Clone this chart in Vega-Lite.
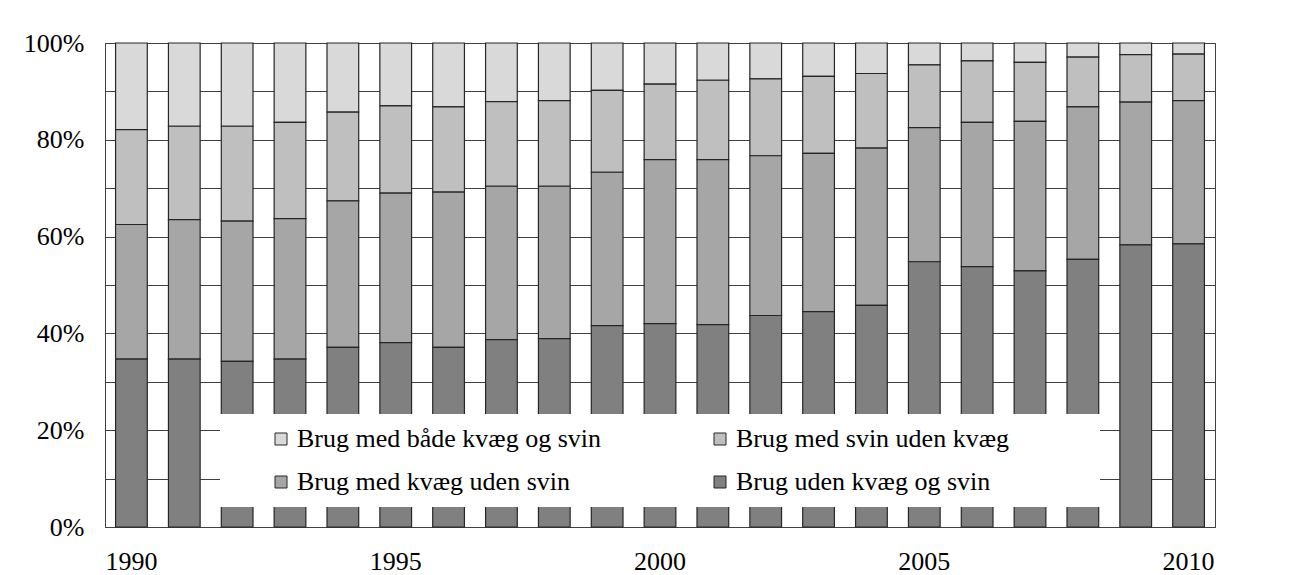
{
  "$schema": "https://vega.github.io/schema/vega-lite/v6.json",
  "width": 1110,
  "height": 484,
  "autosize": {"type": "none"},
  "padding": {"left": 105, "top": 43, "right": 78, "bottom": 48},
  "background": "white",
  "config": {
    "font": "'Liberation Serif', 'Times New Roman', serif",
    "view": {"stroke": "#404040", "strokeWidth": 1}
  },
  "data": {
    "values": [
      {"aar": 1990, "Brug uden kvæg og svin": 34.7, "Brug med kvæg uden svin": 27.8, "Brug med svin uden kvæg": 19.6, "Brug med både kvæg og svin": 17.9},
      {"aar": 1991, "Brug uden kvæg og svin": 34.7, "Brug med kvæg uden svin": 28.8, "Brug med svin uden kvæg": 19.3, "Brug med både kvæg og svin": 17.2},
      {"aar": 1992, "Brug uden kvæg og svin": 34.2, "Brug med kvæg uden svin": 29.0, "Brug med svin uden kvæg": 19.6, "Brug med både kvæg og svin": 17.2},
      {"aar": 1993, "Brug uden kvæg og svin": 34.7, "Brug med kvæg uden svin": 29.0, "Brug med svin uden kvæg": 19.9, "Brug med både kvæg og svin": 16.4},
      {"aar": 1994, "Brug uden kvæg og svin": 37.1, "Brug med kvæg uden svin": 30.3, "Brug med svin uden kvæg": 18.3, "Brug med både kvæg og svin": 14.3},
      {"aar": 1995, "Brug uden kvæg og svin": 38.1, "Brug med kvæg uden svin": 30.9, "Brug med svin uden kvæg": 18.0, "Brug med både kvæg og svin": 13.0},
      {"aar": 1996, "Brug uden kvæg og svin": 37.1, "Brug med kvæg uden svin": 32.1, "Brug med svin uden kvæg": 17.6, "Brug med både kvæg og svin": 13.2},
      {"aar": 1997, "Brug uden kvæg og svin": 38.7, "Brug med kvæg uden svin": 31.7, "Brug med svin uden kvæg": 17.5, "Brug med både kvæg og svin": 12.1},
      {"aar": 1998, "Brug uden kvæg og svin": 38.9, "Brug med kvæg uden svin": 31.5, "Brug med svin uden kvæg": 17.7, "Brug med både kvæg og svin": 11.9},
      {"aar": 1999, "Brug uden kvæg og svin": 41.6, "Brug med kvæg uden svin": 31.7, "Brug med svin uden kvæg": 16.9, "Brug med både kvæg og svin": 9.8},
      {"aar": 2000, "Brug uden kvæg og svin": 42.0, "Brug med kvæg uden svin": 33.9, "Brug med svin uden kvæg": 15.6, "Brug med både kvæg og svin": 8.5},
      {"aar": 2001, "Brug uden kvæg og svin": 41.8, "Brug med kvæg uden svin": 34.1, "Brug med svin uden kvæg": 16.4, "Brug med både kvæg og svin": 7.7},
      {"aar": 2002, "Brug uden kvæg og svin": 43.7, "Brug med kvæg uden svin": 33.0, "Brug med svin uden kvæg": 15.9, "Brug med både kvæg og svin": 7.4},
      {"aar": 2003, "Brug uden kvæg og svin": 44.5, "Brug med kvæg uden svin": 32.7, "Brug med svin uden kvæg": 15.9, "Brug med både kvæg og svin": 6.9},
      {"aar": 2004, "Brug uden kvæg og svin": 45.8, "Brug med kvæg uden svin": 32.5, "Brug med svin uden kvæg": 15.4, "Brug med både kvæg og svin": 6.3},
      {"aar": 2005, "Brug uden kvæg og svin": 54.8, "Brug med kvæg uden svin": 27.7, "Brug med svin uden kvæg": 13.0, "Brug med både kvæg og svin": 4.5},
      {"aar": 2006, "Brug uden kvæg og svin": 53.8, "Brug med kvæg uden svin": 29.8, "Brug med svin uden kvæg": 12.7, "Brug med både kvæg og svin": 3.7},
      {"aar": 2007, "Brug uden kvæg og svin": 52.9, "Brug med kvæg uden svin": 30.9, "Brug med svin uden kvæg": 12.2, "Brug med både kvæg og svin": 4.0},
      {"aar": 2008, "Brug uden kvæg og svin": 55.3, "Brug med kvæg uden svin": 31.5, "Brug med svin uden kvæg": 10.3, "Brug med både kvæg og svin": 2.9},
      {"aar": 2009, "Brug uden kvæg og svin": 58.3, "Brug med kvæg uden svin": 29.5, "Brug med svin uden kvæg": 9.8, "Brug med både kvæg og svin": 2.4},
      {"aar": 2010, "Brug uden kvæg og svin": 58.5, "Brug med kvæg uden svin": 29.6, "Brug med svin uden kvæg": 9.6, "Brug med både kvæg og svin": 2.3}
    ]
  },
  "transform": [
    {"fold": ["Brug med både kvæg og svin", "Brug med svin uden kvæg", "Brug med kvæg uden svin", "Brug uden kvæg og svin"], "as": ["kategori", "andel"]},
    {"calculate": "indexof(['Brug uden kvæg og svin','Brug med kvæg uden svin','Brug med svin uden kvæg','Brug med både kvæg og svin'], datum.kategori)", "as": "stackorder"}
  ],
  "mark": {"type": "bar", "stroke": "#262626", "strokeWidth": 1.2},
  "encoding": {
    "x": {
      "field": "aar",
      "type": "ordinal",
      "scale": {"paddingInner": 0.4, "paddingOuter": 0.2},
      "axis": {
        "title": null,
        "labelAngle": 0,
        "ticks": false,
        "grid": false,
        "domainColor": "#404040",
        "labelFontSize": 26,
        "labelFont": "'Liberation Serif', 'Times New Roman', serif",
        "labelColor": "black",
        "labelPadding": 21,
        "labelOverlap": false,
        "labelExpr": "datum.value % 5 === 0 ? datum.label : ''"
      }
    },
    "y": {
      "field": "andel",
      "type": "quantitative",
      "stack": "normalize",
      "scale": {"domain": [0, 1]},
      "axis": {
        "title": null,
        "values": [0, 0.1, 0.2, 0.3, 0.4, 0.5, 0.6, 0.7, 0.8, 0.9, 1],
        "format": ".0%",
        "labelExpr": "round(datum.value * 10) % 2 === 0 ? datum.label : ''",
        "ticks": false,
        "domain": false,
        "grid": true,
        "gridColor": "#404040",
        "gridWidth": 1.2,
        "labelFontSize": 26,
        "labelFont": "'Liberation Serif', 'Times New Roman', serif",
        "labelColor": "black",
        "labelPadding": 21,
        "labelOverlap": false
      }
    },
    "color": {
      "field": "kategori",
      "type": "nominal",
      "scale": {
        "domain": ["Brug med både kvæg og svin", "Brug med kvæg uden svin", "Brug med svin uden kvæg", "Brug uden kvæg og svin"],
        "range": ["#d9d9d9", "#a6a6a6", "#bfbfbf", "#808080"]
      },
      "legend": {
        "orient": "none",
        "legendX": 115,
        "legendY": 371,
        "columns": 2,
        "title": " ",
        "titleOrient": "right",
        "titlePadding": 79,
        "titleFontSize": 10,
        "fillColor": "white",
        "padding": 12,
        "symbolType": "square",
        "symbolSize": 144,
        "symbolStrokeColor": "#262626",
        "symbolStrokeWidth": 1,
        "symbolOffset": 36,
        "labelOffset": 3,
        "labelFontSize": 26,
        "labelFont": "'Liberation Serif', 'Times New Roman', serif",
        "labelColor": "black",
        "labelLimit": 500,
        "columnPadding": 69,
        "rowPadding": 17
      }
    },
    "order": {"field": "stackorder", "type": "quantitative", "sort": "ascending"}
  }
}
